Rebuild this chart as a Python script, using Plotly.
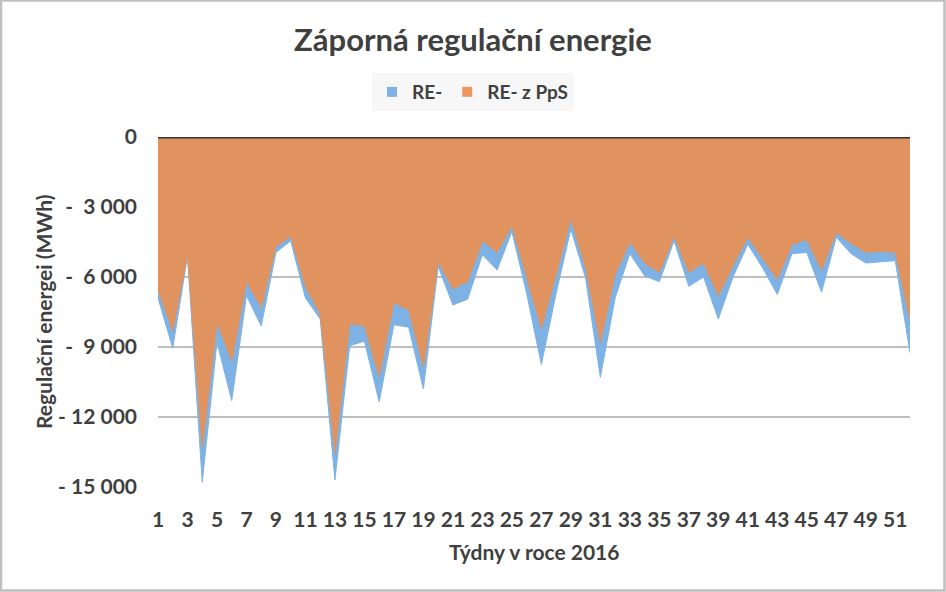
import plotly.graph_objects as go

weeks = list(range(1, 53))
re_minus = [-6900, -9050, -5100, -14800, -8800, -11300, -6800, -8100, -4950, -4450,
            -6900, -7800, -14700, -8950, -8750, -11350, -8050, -8150, -10800, -5550,
            -7200, -6950, -5050, -5700, -4050, -6700, -9750, -6700, -3950, -6050,
            -10300, -6900, -5000, -5950, -6200, -4450, -6400, -6000, -7800, -6000,
            -4600, -5600, -6750, -5000, -4950, -6650, -4300, -5000, -5400, -5350,
            -5300, -9250]
re_pps = [-6550, -8300, -5050, -13300, -7950, -9600, -6200, -7300, -4700, -4250,
          -6400, -7600, -13550, -8000, -8100, -10250, -7100, -7400, -9850, -5350,
          -6500, -6200, -4450, -4950, -3800, -6000, -8200, -5900, -3500, -5600,
          -8800, -5900, -4500, -5400, -5800, -4250, -5800, -5400, -6800, -5500,
          -4300, -5200, -6100, -4600, -4400, -5700, -4100, -4550, -4950, -4900,
          -4950, -7850]
y_ticks = [0, -3000, -6000, -9000, -12000, -15000]
y_tick_text = ["0", "-\u00a0\u00a03\u00a0000", "-\u00a0\u00a06\u00a0000", "-\u00a0\u00a09\u00a0000",
               "-\u00a012\u00a0000", "-\u00a015\u00a0000"]
x_ticks = list(range(1, 53, 2))

BLUE = "#7EB2E4"
ORANGE = "#E0935F"
TXT = "#404040"
FONT = "Lato"
FS = 21

fig = go.Figure()
fig.add_trace(go.Scatter(x=weeks, y=re_minus, mode="lines", fill="tozeroy",
                         fillcolor=BLUE, line=dict(color=BLUE, width=1),
                         name="RE-", showlegend=False))
fig.add_trace(go.Scatter(x=weeks, y=re_pps, mode="lines", fill="tozeroy",
                         fillcolor=ORANGE, line=dict(color=ORANGE, width=1),
                         name="RE- z PpS", showlegend=False))
# legend entries
fig.add_trace(go.Scatter(x=[None], y=[None], mode="markers", name="<b>RE-</b>",
                         marker=dict(symbol="square", size=10, color=BLUE)))
fig.add_trace(go.Scatter(x=[None], y=[None], mode="markers", name="<b>RE- z PpS</b>",
                         marker=dict(symbol="square", size=10, color="#EE975E")))

W, H = 946, 592
L, R, T, B = 158, 36, 137, 105
pw, ph = W - L - R, H - T - B

def px(xp):
    return (xp - L) / pw

def py(yp):
    return 1 - (yp - T) / ph

fig.update_layout(
    width=W, height=H,
    margin=dict(l=L, r=R, t=T, b=B),
    paper_bgcolor="white", plot_bgcolor="white",
    font=dict(family=FONT, color=TXT, size=FS),
    title=dict(text="<b>Záporná regulační energie</b>", x=0.5, xref="container",
               xanchor="center", y=1 - 40 / H, yanchor="middle",
               font=dict(size=31, color=TXT, family=FONT)),
    showlegend=True,
    legend=dict(orientation="h", x=px(473), xanchor="center", y=py(73), yanchor="top",
                bgcolor="#F7F7F7", font=dict(size=19, color=TXT, family=FONT),
                itemwidth=30, entrywidthmode="pixels"),
    xaxis=dict(range=[1, 52], tickvals=x_ticks, ticktext=[f"<b>{v}</b>" for v in x_ticks],
               showgrid=False, zeroline=False, showline=False, ticks="",
               ticklabelstandoff=18, tickfont=dict(size=FS, color=TXT, family=FONT)),
    yaxis=dict(range=[-15000, 0], tickvals=y_ticks, ticktext=[f"<b>{t}</b>" for t in y_tick_text],
               showgrid=True, gridcolor="#BFBFBF", gridwidth=2,
               zeroline=False, showline=False, ticks="",
               ticklabelstandoff=20, tickfont=dict(size=FS, color=TXT, family=FONT)),
    annotations=[
        dict(text="<b>Regulační energei (MWh)</b>", xref="paper", yref="paper",
             x=px(43), y=py(312), xanchor="center", yanchor="middle", textangle=-90,
             showarrow=False, font=dict(size=FS, color=TXT, family=FONT)),
        dict(text="<b>Týdny v roce 2016</b>", xref="paper", yref="paper",
             x=px(534), y=py(551), xanchor="center", yanchor="middle",
             showarrow=False, font=dict(size=FS, color=TXT, family=FONT)),
    ],
    shapes=[
        dict(type="line", xref="paper", yref="y", x0=0, x1=1, y0=0, y1=0,
             line=dict(color="#333333", width=3), layer="above"),
        dict(type="rect", xref="paper", yref="paper", x0=px(1), x1=px(W - 1.5),
             y0=py(H - 1.5), y1=py(0.5), line=dict(color="#BFBFBF", width=2.5),
             layer="above"),
    ],
)

fig.write_html("out.html")
